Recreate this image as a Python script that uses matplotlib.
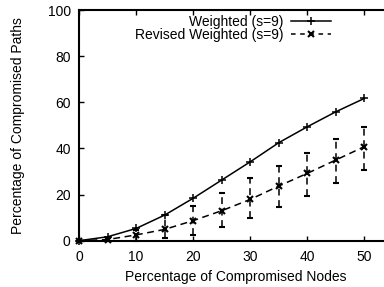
import matplotlib
matplotlib.use("Agg")
import matplotlib.pyplot as plt
from matplotlib.lines import Line2D

# percentage of compromised nodes
nodes = [0, 5, 10, 15, 20, 25, 30, 35, 40, 45, 50]
# Weighted (s=9)
weighted = [0, 1.7, 5.3, 11.1, 18.4, 26.3, 34.2, 42.5, 49.4, 55.9, 61.7]
# Revised Weighted (s=9), mean and error bar ends
revised = [0, 0.5, 2.5, 4.9, 8.7, 13.0, 17.9, 23.7, 29.2, 35.0, 40.8]
rev_low = [0, 0, 0, 1.0, 2.5, 5.8, 9.7, 14.5, 19.4, 25.1, 30.6]
rev_high = [0, 1.0, 4.6, 11.1, 15.0, 20.8, 27.3, 32.5, 37.9, 43.9, 49.4]

plt.rcParams['font.family'] = ['Liberation Sans', 'DejaVu Sans']
plt.rcParams['font.size'] = 10

W, H = 384, 287
fig = plt.figure(figsize=(W / 100, H / 100), dpi=100)
ax = fig.add_axes([79 / W, (H - 240.7) / H, 314 / W, 230.7 / H])

ax.plot(nodes, weighted, color='black', lw=1.1, marker='+', ms=5.5, mew=1.1,
        clip_on=False, zorder=3)

err_lo = [r - l for r, l in zip(revised, rev_low)]
err_hi = [h - r for r, h in zip(revised, rev_high)]
eb = ax.errorbar(nodes, revised, yerr=[err_lo, err_hi], color='black', lw=1.1,
                 ls=(0, (4.5, 3)), marker='x', ms=5, mew=1.5, capsize=2.5,
                 elinewidth=1.1, capthick=1.1, clip_on=False, zorder=3)
for bar in eb[2]:
    bar.set_linestyle((0, (4.5, 3)))

ax.set_xlim(0, 55)
ax.set_ylim(0, 100)
ax.set_xticks([0, 10, 20, 30, 40, 50])
ax.set_yticks([0, 20, 40, 60, 80, 100])
ax.tick_params(direction='in', length=3.5, width=1, top=True, right=True)
ax.tick_params(axis='x', pad=7)
ax.tick_params(axis='y', pad=6)
for s in ax.spines.values():
    s.set_linewidth(1.5)

ax.set_xlabel("Percentage of Compromised Nodes", labelpad=4)
ax.set_ylabel("Percentage of Compromised Paths", labelpad=16)

handles = [
    Line2D([], [], color='black', lw=1.1, marker='+', ms=5.5, mew=1.1),
    Line2D([], [], color='black', lw=1.1, ls=(0, (3, 3)), marker='x', ms=5, mew=1.5),
]
ax.legend(handles, ["Weighted (s=9)", "Revised Weighted (s=9)"],
          loc='upper right', bbox_to_anchor=(331 / W, 1 - 15 / H),
          bbox_transform=fig.transFigure, frameon=False, markerfirst=False,
          handlelength=2.9, handletextpad=0.5, labelspacing=-0.1,
          borderpad=0, borderaxespad=0)

fig.savefig("out.png", dpi=100)
